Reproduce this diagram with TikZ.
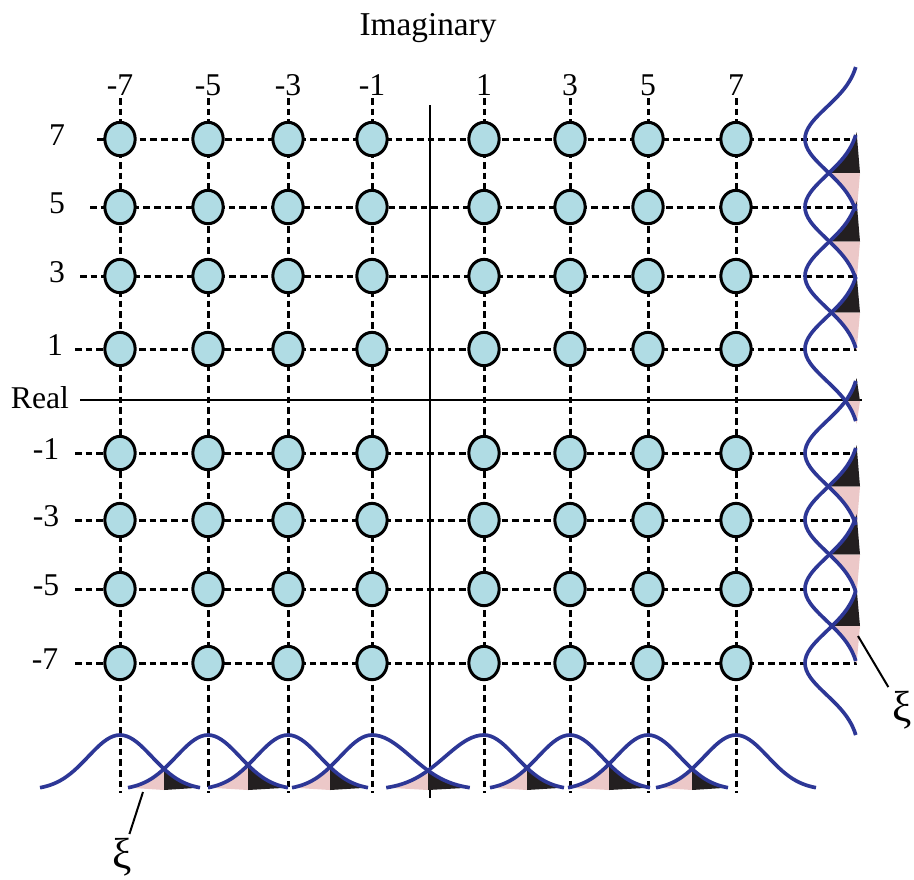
\documentclass[tikz,border=0pt]{standalone}
\usepackage{fontspec}
\setmainfont{Liberation Serif}
\usetikzlibrary{shapes.geometric}
\definecolor{mblue}{RGB}{176,220,228}
\definecolor{mcurve}{RGB}{45,55,150}
\definecolor{mpink}{RGB}{236,200,200}
\definecolor{mblack}{RGB}{35,31,32}
\tikzset{point/.style = {ellipse, draw, line width=0.9pt, fill=mblue,
                         minimum width=9.1pt, minimum height=10pt, inner sep=0pt}}
\tikzset{gridline/.style = {line width=0.9pt, dash pattern=on 2pt off 1.2pt}}
\tikzset{axis/.style = {line width=0.6pt}}
\tikzset{bell/.style = {mcurve, line width=1.1pt, smooth}}
\tikzset{lbl/.style = {font=\fontsize{9.5}{11}\selectfont, inner sep=0pt}}
\tikzset{xilbl/.style = {font=\fontsize{13}{15}\selectfont, inner sep=1pt}}

\begin{document}
\begin{tikzpicture}[x=0.3pt, y=-0.3pt]
  \useasboundingbox (0,0) rectangle (914,879);
  \node[font=\fontsize{10}{12}\selectfont] (imag) at (428,28) {Imaginary};
  \node[lbl] (real) at (40,398) {Real};
  \foreach \v/\px in {-7/120,-5/208,-3/288,-1/372,1/484,3/570,5/648,7/736} {
    \node[lbl] (cl\v) at (\px,85) {\v};
    \coordinate (ct\v) at (\px,98);
    \coordinate (cb\v) at (\px,793);
    \draw[gridline] (ct\v) -- (cb\v);
  }
  \foreach \w/\py/\ps/\lx in {7/139/97/57,5/207/90/57,3/276/80/57,1/349/75/55,
                              -1/453/75/46,-3/520/75/46,-5/589/75/46,-7/663/75/45} {
    \node[lbl] (rl\w) at (\lx,\py-4) {\w};
    \coordinate (rs\w) at (\ps,\py);
    \coordinate (re\w) at (857,\py);
    \draw[gridline] (rs\w) -- (re\w);
  }
  \coordinate (vt) at (430,105);
  \coordinate (vb) at (430,798);
  \coordinate (hl) at (80,400);
  \coordinate (hr) at (862,400);
  \draw[axis] (vt) -- (vb);
  \draw[axis] (hl) -- (hr);
  \foreach \v/\px in {-7/120,-5/208,-3/288,-1/372,1/484,3/570,5/648,7/736}
    \foreach \w/\py in {7/139,5/207,3/276,1/349,-1/453,-3/520,-5/589,-7/663}
      \node[point] (p\v\w) at (\px,\py) {};

  \foreach \ca/\cb/\sa/\sb in {120/208/45/45,208/288/45/45,288/372/45/45,372/484/55/55,
                               484/570/45/45,570/648/45/45,648/736/45/45} {
    \pgfmathsetmacro\xm{(\ca+\cb)/2}
    \pgfmathsetmacro\xs{\cb-80*\sb/45}
    \pgfmathsetmacro\xe{\ca+80*\sa/45}
    \fill[mpink] plot[domain=\xs:\xm, samples=20] (\x,{790-55*exp(-pow((\x-\cb)/\sb,2))}) -- (\xm,790) -- cycle;
    \fill[mblack] (\xm,790) -- plot[domain=\xm:\xe, samples=20] (\x,{790-55*exp(-pow((\x-\ca)/\sa,2))}) -- cycle;
  }
  \foreach \c/\sl/\sr in {120/45/45,208/45/45,288/45/45,372/45/55,484/55/45,570/45/45,648/45/45,736/45/45} {
    \pgfmathsetmacro\xs{\c-80*\sl/45}
    \pgfmathsetmacro\xe{\c+80*\sr/45}
    \draw[bell] plot[domain=\xs:\c, samples=25] (\x,{790-55*exp(-pow((\x-\c)/\sl,2))})
             -- plot[domain=\c:\xe, samples=25] (\x,{790-55*exp(-pow((\x-\c)/\sr,2))});
  }

  \foreach \ra/\rb in {139/207,207/276,276/349,349/453,453/520,520/589,589/663} {
    \pgfmathsetmacro\xm{(\ra+\rb)/2}
    \pgfmathsetmacro\xs{\rb-75}
    \pgfmathsetmacro\xe{\ra+75}
    \fill[mblack] plot[domain=\xs:\xm, samples=20] ({860-55*exp(-pow((\x-\rb)/45,2))},\x) -- (860,\xm) -- cycle;
    \fill[mpink] (860,\xm) -- plot[domain=\xm:\xe, samples=20] ({860-55*exp(-pow((\x-\ra)/45,2))},\x) -- cycle;
  }
  \foreach \r in {139,207,276,349,453,520,589,663} {
    \pgfmathsetmacro\xs{\r-72}
    \pgfmathsetmacro\xe{\r+72}
    \draw[bell] plot[domain=\xs:\xe, samples=41] ({860-55*exp(-pow((\x-\r)/45,2))},\x);
  }

  \coordinate (xa) at (143,792);
  \node[xilbl] (xib) at (122,857) {ξ};
  \draw[axis] (xa) -- (xib);
  \coordinate (xr) at (858,636);
  \node[xilbl] (xir) at (902,710) {ξ};
  \draw[axis] (xr) -- (xir);
\end{tikzpicture}
\end{document}
